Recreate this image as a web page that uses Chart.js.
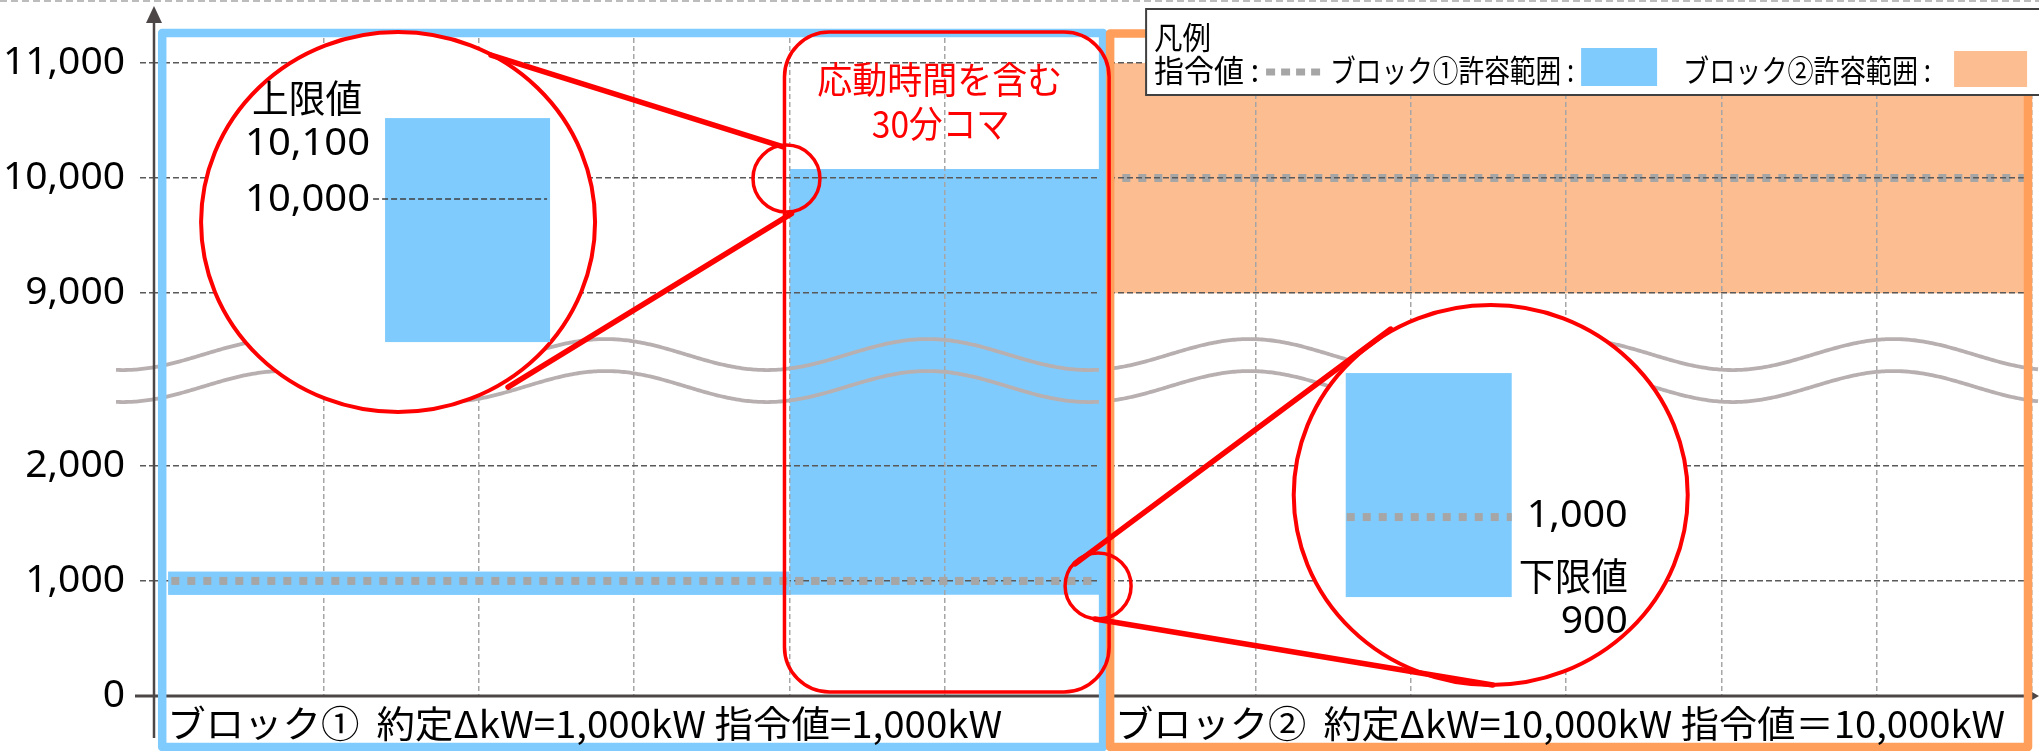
<!DOCTYPE html>
<html lang="ja">
<head>
<meta charset="utf-8">
<title>許容範囲</title>
<script src="https://cdn.jsdelivr.net/npm/chart.js"></script>
<style>
  html, body { margin: 0; padding: 0; background: #fff; }
  canvas { display: block; }
</style>
</head>
<body>
<canvas id="chart" width="2039" height="751"></canvas>
<script>
// 縦軸の目盛り (kW) ※2,000〜9,000 は省略
const yTicks = [0, 1000, 2000, 9000, 10000, 11000];
// 横軸: 30分コマの境界
const slots = [1, 2, 3, 4, 5, 6, 7, 8, 9, 10, 11, 12];

// 許容範囲 (コマ単位の開始・終了, 下限・上限 kW)
const rangeNames = ['ブロック①許容範囲', '応動時間を含む30分コマ', 'ブロック②許容範囲'];
const rangeStart = [0, 4, 6];
const rangeEnd = [4, 6, 12];
const rangeLow = [880, 880, 9000];
const rangeHigh = [1080, 10080, 11000];

// 指令値
const orderStart = [0.02, 6.04];
const orderEnd = [5.95, 11.95];
const orderValue = [1000, 10000];

const blue = '#7fcbfe';
const orangeFill = '#fcbd91';
const orangeLine = '#ff9f5b';
const red = '#ff0000';
const gray = '#a6a6a6';
const rangeColors = [blue, blue, orangeFill];
const JP = '"Noto Sans CJK JP", "Noto Sans", sans-serif';

// 省略部分を詰めた縦軸の位置
function toAxis(v) {
  return v <= 2000 ? v / 1000 : 3.5 + (v - 9000) / 1000;
}

let datasets = [];
orderValue.forEach(function(v, i){
  datasets.push({
    label: '指令値',
    data: [{x: orderStart[i], y: toAxis(v)}, {x: orderEnd[i], y: toAxis(v)}],
    borderColor: gray,
    borderWidth: 8,
    borderDash: [8, 8],
    pointRadius: 0,
    fill: false
  });
});
rangeNames.forEach(function(name, i){
  datasets.push({
    label: name + ' 上限',
    data: [{x: rangeStart[i], y: toAxis(rangeHigh[i])}, {x: rangeEnd[i], y: toAxis(rangeHigh[i])}],
    borderColor: 'rgba(0,0,0,0)',
    pointRadius: 0,
    fill: false
  });
  datasets.push({
    label: name,
    data: [{x: rangeStart[i], y: toAxis(rangeLow[i])}, {x: rangeEnd[i], y: toAxis(rangeLow[i])}],
    borderColor: 'rgba(0,0,0,0)',
    backgroundColor: rangeColors[i],
    pointRadius: 0,
    fill: '-1'
  });
});

function fitText(ctx, str, x, y, w, size, color, align, family) {
  ctx.save();
  ctx.font = size + 'px ' + (family || JP);
  ctx.fillStyle = color || '#000';
  ctx.textBaseline = 'middle';
  ctx.textAlign = 'left';
  const mw = ctx.measureText(str).width;
  let x0 = x;
  if (align === 'right') x0 = x - w;
  if (align === 'center') x0 = x - w / 2;
  ctx.translate(x0, y);
  ctx.scale(w / mw, 1);
  ctx.fillText(str, 0, 0);
  ctx.restore();
}

function line(ctx, x1, y1, x2, y2) {
  ctx.beginPath();
  ctx.moveTo(x1, y1);
  ctx.lineTo(x2, y2);
  ctx.stroke();
}

const drawing = {
  id: 'drawing',
  afterDraw(chart) {
    const ctx = chart.ctx;
    const area = chart.chartArea;
    const X = u => chart.scales.x.getPixelForValue(u);
    const YU = u => chart.scales.y.getPixelForValue(u);
    const Y = v => YU(toAxis(v));

    // ブロック①の帯と指令値は目盛線より上に
    ctx.save();
    ctx.fillStyle = rangeColors[0];
    ctx.fillRect(X(rangeStart[0]), Y(rangeHigh[0]), X(rangeEnd[0]) - X(rangeStart[0]), Y(rangeLow[0]) - Y(rangeHigh[0]));
    ctx.restore();
    chart.getDatasetMeta(0).controller.draw();

    // 波線 (軸の省略)
    ctx.save();
    ctx.strokeStyle = '#b8b0b0';
    ctx.lineWidth = 3.8;
    const peak = X(4.89), period = X(2.073) - X(0);
    [2.967, 2.689].forEach(function(c){
      const cy = YU(c);
      ctx.beginPath();
      for (let px = area.left - 39; px <= chart.width; px += 2) {
        const py = cy - 15.5 * Math.cos(2 * Math.PI * (px - peak) / period);
        if (px === area.left - 39) ctx.moveTo(px, py); else ctx.lineTo(px, py);
      }
      ctx.stroke();
    });
    ctx.restore();

    // 軸と矢印
    ctx.save();
    ctx.strokeStyle = ctx.fillStyle = '#4d4646';
    const ax = area.left - 1, ay = area.bottom;
    ctx.lineWidth = 2.5;
    line(ctx, ax, 20, ax, ay + 42);
    ctx.beginPath();
    ctx.moveTo(ax, 6); ctx.lineTo(ax - 8, 23); ctx.lineTo(ax + 8, 23);
    ctx.closePath(); ctx.fill();
    ctx.lineWidth = 3;
    line(ctx, ax - 19, ay, chart.width - 10, ay);
    ctx.beginPath();
    ctx.moveTo(chart.width, ay); ctx.lineTo(chart.width - 14, ay - 8); ctx.lineTo(chart.width - 14, ay + 8);
    ctx.closePath(); ctx.fill();
    ctx.restore();

    // ブロック枠
    const top = Y(11000) - 30, bottom = area.bottom + 51;
    ctx.save();
    ctx.lineWidth = 8.5;
    ctx.lineJoin = 'round';
    ctx.strokeStyle = blue;
    ctx.strokeRect(X(0) - 6, top, X(6) + 9 - X(0), bottom - top);
    ctx.strokeStyle = orangeLine;
    ctx.strokeRect(X(6) + 10, top + 0.5, X(12) - X(6) - 14, bottom - top - 0.5);
    ctx.restore();

    // 応動時間を含む30分コマ
    const rl = X(4) - 5, rr = X(6) + 9, rt = Y(11000) - 31, rb = area.bottom - 4;
    ctx.save();
    ctx.strokeStyle = red;
    ctx.lineWidth = 3.5;
    ctx.beginPath();
    ctx.roundRect(rl, rt, rr - rl, rb - rt, 45);
    ctx.stroke();
    ctx.restore();
    fitText(ctx, '応動時間を含む', (rl + rr) / 2 - 7, 80, 245, 37, red, 'center');
    fitText(ctx, '30分コマ', (rl + rr) / 2 - 6, 124, 138, 37, red, 'center');

    // 下のラベル
    fitText(ctx, 'ブロック①  約定ΔkW=1,000kW 指令値=1,000kW', X(0) - 1, area.bottom + 28, 835, 37, '#000', 'left');
    fitText(ctx, 'ブロック②  約定ΔkW=10,000kW 指令値＝10,000kW', X(6) + 15, area.bottom + 28, 890, 37, '#000', 'left');

    // 拡大図
    function bigCircle(cx, cy) {
      ctx.save();
      ctx.beginPath();
      ctx.ellipse(cx, cy, 197, 190, 0, 0, Math.PI * 2);
      ctx.fillStyle = '#fff';
      ctx.fill();
      ctx.strokeStyle = red;
      ctx.lineWidth = 4;
      ctx.stroke();
      ctx.restore();
    }
    const c1x = X(1.48), c1y = YU(4.118);
    bigCircle(c1x, c1y);
    ctx.fillStyle = blue;
    ctx.fillRect(c1x - 13, c1y - 104, 165, 224);
    ctx.save();
    ctx.strokeStyle = '#404040';
    ctx.lineWidth = 1.5;
    ctx.setLineDash([6, 3]);
    line(ctx, c1x - 25, c1y - 23, c1x + 149, c1y - 23);
    ctx.restore();
    fitText(ctx, '上限値', c1x - 146, c1y - 124.5, 110, 38, '#000', 'left');
    fitText(ctx, '10,100', c1x - 28, c1y - 78.5, 125, 39, '#000', 'right', '"Noto Sans"');
    fitText(ctx, '10,000', c1x - 28, c1y - 22, 125, 39, '#000', 'right', '"Noto Sans"');

    const c2x = X(8.515), c2y = YU(1.746);
    bigCircle(c2x, c2y);
    ctx.fillStyle = blue;
    ctx.fillRect(c2x - 145, c2y - 122, 166, 224);
    ctx.save();
    ctx.strokeStyle = gray;
    ctx.lineWidth = 8;
    ctx.setLineDash([8, 8]);
    line(ctx, c2x - 144, c2y + 22, c2x + 21, c2y + 22);
    ctx.restore();
    fitText(ctx, '1,000', c2x + 137, c2y + 21, 101, 39, '#000', 'right', '"Noto Sans"');
    fitText(ctx, '下限値', c2x + 137, c2y + 81, 109, 38, '#000', 'right');
    fitText(ctx, '900', c2x + 137, c2y + 126.5, 67, 39, '#000', 'right', '"Noto Sans"');

    // 小さい円と引き出し線
    const s1x = X(4) - 3, s1y = Y(10000) + 0.5;
    const s2x = X(6) - 2, s2y = Y(1000) + 5;
    ctx.save();
    ctx.strokeStyle = red;
    ctx.lineWidth = 3.5;
    ctx.beginPath(); ctx.arc(s1x, s1y, 33.5, 0, Math.PI * 2); ctx.stroke();
    ctx.beginPath(); ctx.arc(s2x, s2y, 33, 0, Math.PI * 2); ctx.stroke();
    ctx.lineWidth = 5.5;
    ctx.lineCap = 'round';
    line(ctx, c1x + 93, c1y - 167, s1x - 4, s1y - 32);
    line(ctx, s1x + 5, s1y + 35, c1x + 110, c1y + 165);
    line(ctx, s2x - 23, s2y - 22, c2x - 100, c2y - 166);
    line(ctx, s2x - 3, s2y + 33, c2x + 2, c2y + 190);
    ctx.restore();

    // 凡例
    const lx = X(6) + 46;
    ctx.save();
    ctx.fillStyle = '#fff';
    ctx.fillRect(lx, 9, 900, 86);
    ctx.strokeStyle = '#404040';
    ctx.lineWidth = 2;
    ctx.strokeRect(lx, 9, 900, 86);
    ctx.strokeStyle = gray;
    ctx.lineWidth = 7;
    ctx.setLineDash([9, 6]);
    line(ctx, lx + 120, 72, lx + 175, 72);
    ctx.fillStyle = blue;
    ctx.fillRect(lx + 435, 48, 76, 38);
    ctx.fillStyle = orangeFill;
    ctx.fillRect(lx + 808, 51, 73, 36);
    ctx.restore();
    fitText(ctx, '凡例', lx + 8, 37, 57, 31, '#000', 'left');
    fitText(ctx, '指令値 :', lx + 8, 70, 105, 31, '#000', 'left');
    fitText(ctx, rangeNames[0] + ' :', lx + 184, 70, 244, 31, '#000', 'left');
    fitText(ctx, rangeNames[2] + ' :', lx + 537, 70, 248, 31, '#000', 'left');

    // 上端の点線
    ctx.save();
    ctx.strokeStyle = gray;
    ctx.lineWidth = 1.5;
    ctx.setLineDash([7, 4]);
    line(ctx, 0, 1, chart.width, 1);
    ctx.restore();
  }
};

const ctx = document.getElementById('chart').getContext('2d');
const chart = new Chart(ctx, {
  type: 'line',
  data: { datasets: datasets },
  options: {
    responsive: false,
    animation: false,
    devicePixelRatio: 1,
    layout: { padding: { top: 30, right: 7, bottom: 0, left: 0 } },
    plugins: {
      legend: { display: false },
      tooltip: { enabled: false }
    },
    scales: {
      x: {
        type: 'linear',
        min: -0.085,
        max: 12,
        afterBuildTicks: function(s){ s.ticks = slots.map(v => ({value: v})); },
        afterFit: function(s){ s.height = 55; s.paddingLeft = 0; s.paddingRight = 0; },
        ticks: { display: false },
        grid: { color: '#a6a6a6', lineWidth: 1.5, drawTicks: false, z: 1 },
        border: { display: false, dash: [5, 3] }
      },
      y: {
        type: 'linear',
        min: 0,
        max: 5.787,
        afterBuildTicks: function(s){ s.ticks = yTicks.map(v => ({value: toAxis(v)})); },
        afterFit: function(s){ s.width = 155; s.paddingTop = 0; s.paddingBottom = 0; },
        ticks: {
          padding: 15,
          color: '#000',
          font: { family: 'Noto Sans', size: 39 },
          callback: function(val, i){ return yTicks[i].toLocaleString('en-US'); }
        },
        grid: {
          color: c => c.tick && c.tick.value === 0 ? 'rgba(0,0,0,0)' : '#595959',
          lineWidth: 1.5,
          tickLength: 15,
          tickBorderDash: [6, 3],
          z: 1
        },
        border: { display: false, dash: [6, 3] }
      }
    }
  },
  plugins: [drawing]
});
</script>
</body>
</html>
